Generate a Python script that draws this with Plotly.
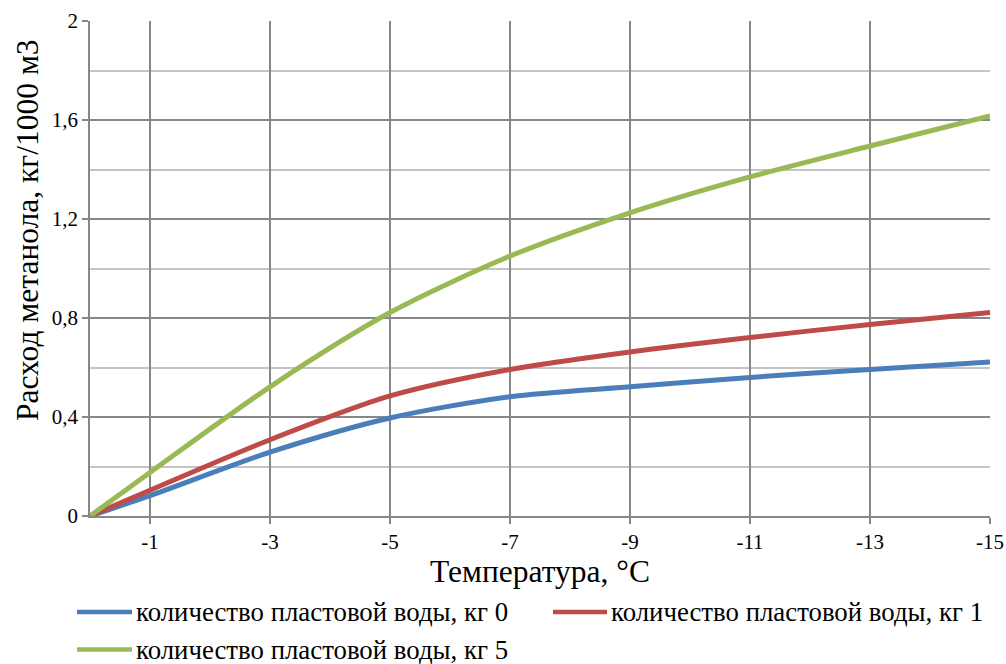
import plotly.graph_objects as go

# Temperature points, °C
temperature = [0, -1, -3, -5, -7, -9, -11, -13, -15]

# Methanol consumption, kg per 1000 m3, by formation water amount
water_0kg = [0, 0.082, 0.258, 0.396, 0.482, 0.522, 0.560, 0.592, 0.622]
water_1kg = [0, 0.104, 0.308, 0.485, 0.592, 0.663, 0.721, 0.774, 0.822]
water_5kg = [0, 0.176, 0.522, 0.822, 1.050, 1.225, 1.370, 1.495, 1.616]

series_names = [
    "количество пластовой воды, кг 0",
    "количество пластовой воды, кг 1",
    "количество пластовой воды, кг 5",
]
series_colors = ["#4A7EBB", "#BE4B48", "#98B954"]

x_tick_vals = [-1, -3, -5, -7, -9, -11, -13, -15]
x_tick_text = ["-1", "-3", "-5", "-7", "-9", "-11", "-13", "-15"]
y_tick_vals = [0, 0.4, 0.8, 1.2, 1.6, 2]
y_tick_text = ["0", "0,4", "0,8", "1,2", "1,6", "2"]

x_title = "Температура, °С"
y_title = "Расход метанола, кг/1000 м3"

FONT = "Liberation Serif"
GRID = "#878787"
MINOR_GRID = "#C4C4C4"

# Canvas and plot-area geometry (pixels)
W, H = 1006, 664
ML, MR, MT, MB = 90, 16, 21, 148
PW, PH = W - ML - MR, H - MT - MB


def px_x(px):
    """Horizontal pixel position -> paper coordinate."""
    return (px - ML) / PW


def px_y(py):
    """Vertical pixel position (from top) -> paper coordinate."""
    return (H - MB - py) / PH


fig = go.Figure()
for name, values, color in zip(series_names, [water_0kg, water_1kg, water_5kg], series_colors):
    fig.add_trace(go.Scatter(
        x=temperature, y=values, name=name, mode="lines",
        line=dict(color=color, width=5, shape="spline", smoothing=0.8),
    ))

# Legend laid out in two columns below the x-axis title
legend_slots = [(77, 132, 612), (553, 607, 612), (77, 132, 649.5)]
for name, color, (x0, x1, y) in zip(series_names, series_colors, legend_slots):
    fig.add_shape(
        type="line", xref="paper", yref="paper",
        x0=px_x(x0), x1=px_x(x1), y0=px_y(y), y1=px_y(y),
        line=dict(color=color, width=4.5), layer="above",
    )
    fig.add_annotation(
        xref="paper", yref="paper", x=px_x(x1 + 2), y=px_y(y),
        xanchor="left", yanchor="middle", showarrow=False, text=name,
        font=dict(family=FONT, size=26.8, color="black"),
    )

# Vertical axis title
fig.add_annotation(
    xref="paper", yref="paper", x=px_x(27), y=px_y(230),
    xanchor="center", yanchor="middle", showarrow=False, textangle=-90,
    text=y_title, font=dict(family=FONT, size=31.5, color="black"),
)

fig.update_layout(
    width=W, height=H,
    margin=dict(l=ML, r=MR, t=MT, b=MB, autoexpand=False),
    paper_bgcolor="white", plot_bgcolor="white",
    font=dict(family=FONT, color="black"),
    showlegend=False,
)

fig.update_xaxes(
    range=[0, -15], automargin=False,
    tickmode="array", tickvals=x_tick_vals, ticktext=x_tick_text,
    tickfont=dict(family=FONT, size=21, color="black"),
    ticks="outside", ticklen=6, tickcolor=GRID, tickwidth=1.5,
    showgrid=True, gridcolor=GRID, gridwidth=1.5,
    showline=True, linecolor=GRID, linewidth=1.5,
    zeroline=False,
    title=dict(text=x_title, font=dict(family=FONT, size=31.5, color="black"), standoff=4),
)
fig.update_yaxes(
    range=[0, 2], automargin=False,
    tickmode="array", tickvals=y_tick_vals, ticktext=y_tick_text,
    tickfont=dict(family=FONT, size=21, color="black"),
    ticks="outside", ticklen=6, tickcolor=GRID, tickwidth=1.5,
    showgrid=True, gridcolor=GRID, gridwidth=1.5,
    minor=dict(dtick=0.2, tick0=0, showgrid=True, gridcolor=MINOR_GRID, gridwidth=1.5, ticks=""),
    showline=True, linecolor=GRID, linewidth=1.5,
    zeroline=False,
)

fig.write_html("out.html")
